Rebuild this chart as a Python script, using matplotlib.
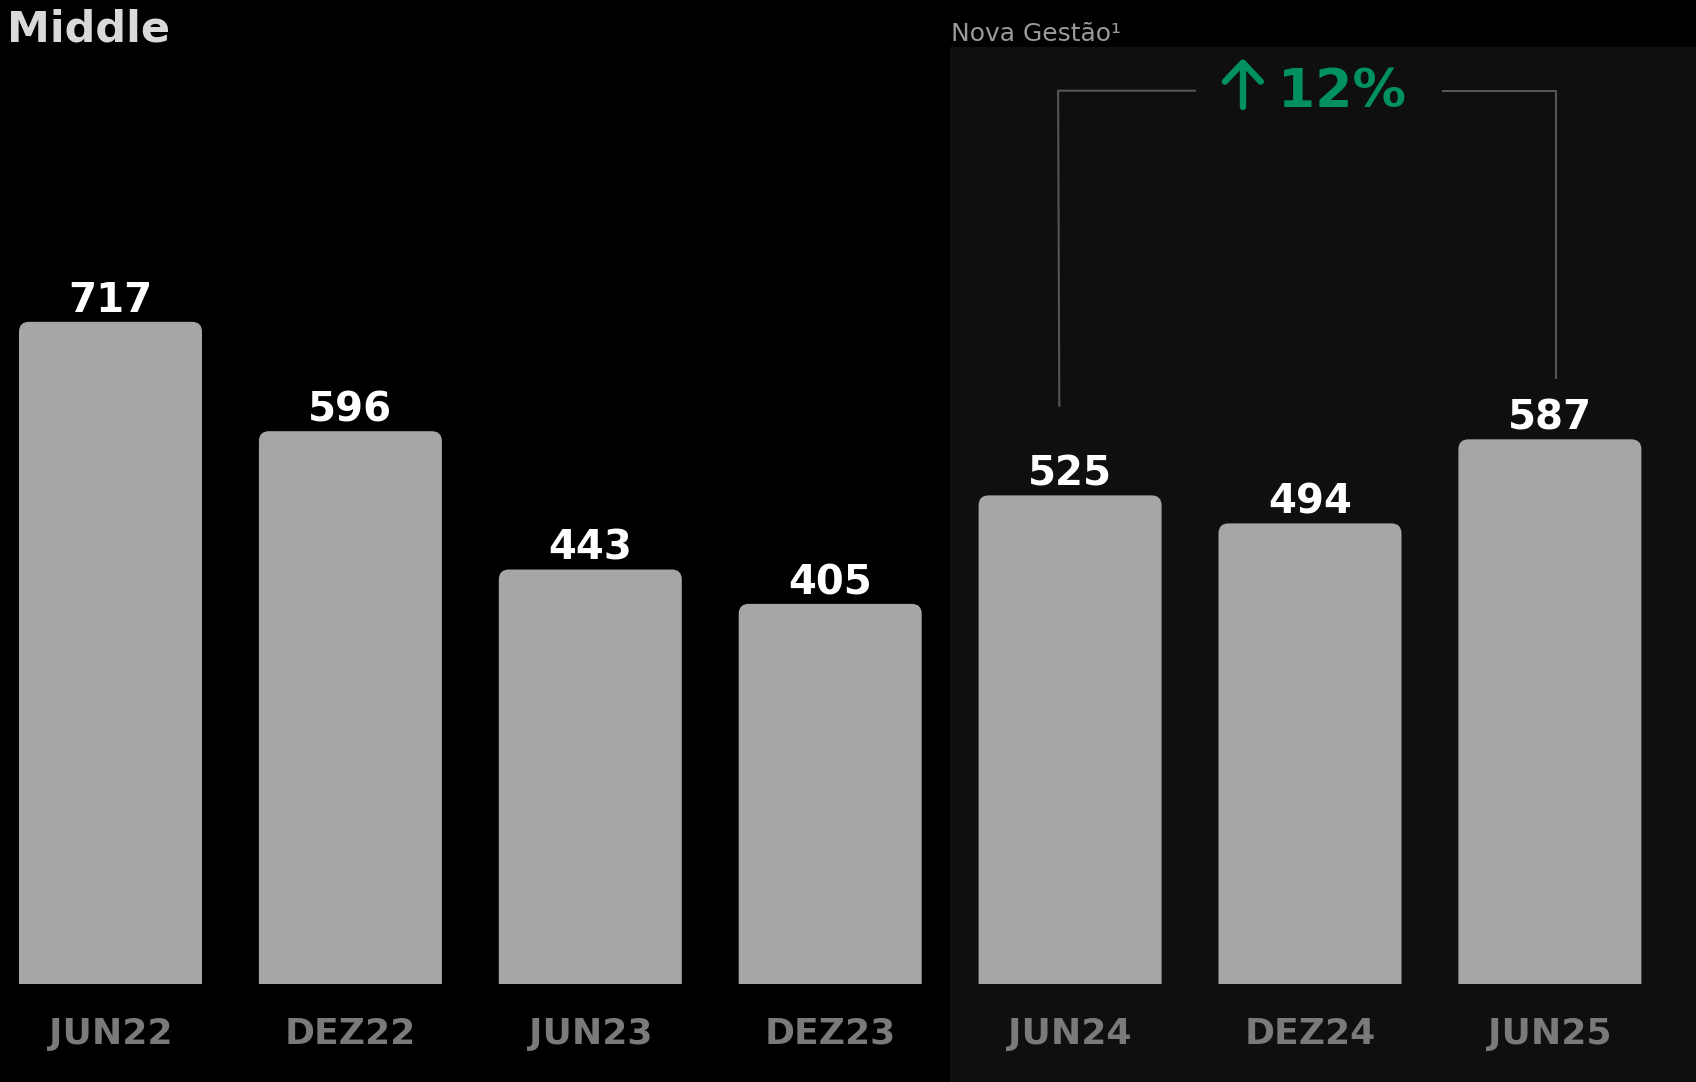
import matplotlib
matplotlib.use("Agg")
import matplotlib.pyplot as plt
from matplotlib.patches import PathPatch, Rectangle
from matplotlib.path import Path
from matplotlib.transforms import blended_transform_factory

# Data
periods = ["JUN22", "DEZ22", "JUN23", "DEZ23", "JUN24", "DEZ24", "JUN25"]
values = [717, 596, 443, 405, 525, 494, 587]
title = "Middle"
panel_label = "Nova Gestão¹"
growth_label = "12%"
panel_start = 4          # first period under the new management panel
growth_from, growth_to = 4, 6

# Colours
BG = "#000000"
PANEL = "#0f0f0f"
BAR = "#a6a6a6"
GREEN = "#00915f"
LINE = "#555555"

W, H, DPI = 16.96, 10.82, 100
fig = plt.figure(figsize=(W, H), dpi=DPI, facecolor=BG)
ax = fig.add_axes([0, 0, 1, 1])
ax.set_facecolor(BG)
ax.set_axis_off()

# scale: one category = 239.9 px, one unit of value = 0.904 px
px_x = 239.9
px_y = 0.904
ax.set_xlim(-110.5 / px_x, (W * DPI - 110.5) / px_x)
base = -15.5
ax.set_ylim(base - 98 / px_y, base + 984 / px_y)

bx = blended_transform_factory(ax.transData, ax.transAxes)

# shaded panel for the new-management period
ax.add_patch(Rectangle((panel_start - 0.5, 0), 10, 1 - 46.5 / 1082,
                       transform=bx, facecolor=PANEL, edgecolor="none", zorder=0))
ax.text(panel_start - 0.5 + 1 / px_x, 1 - 41 / 1082, panel_label, transform=bx,
        ha="left", va="baseline", fontsize=18, color="#9a9a9a",
        family="DejaVu Sans")


def top_rounded_bar(xc, width, bottom, top, rx, ry):
    """Path of a bar whose two top corners are rounded."""
    x0, x1 = xc - width / 2, xc + width / 2
    verts = [(x0, bottom), (x0, top - ry), (x0, top), (x0 + rx, top),
             (x1 - rx, top), (x1, top), (x1, top - ry), (x1, bottom),
             (x0, bottom)]
    codes = [Path.MOVETO, Path.LINETO, Path.CURVE3, Path.CURVE3,
             Path.LINETO, Path.CURVE3, Path.CURVE3, Path.LINETO,
             Path.CLOSEPOLY]
    return Path(verts, codes)


# bars with rounded top corners
bw = 183 / px_x
r_px = 10
rx = r_px / px_x
ry = r_px / px_y
for i, v in enumerate(values):
    ax.add_patch(PathPatch(top_rounded_bar(i, bw, base, v, rx, ry),
                           facecolor=BAR, edgecolor="none", zorder=2))
    ax.annotate(f"{v}", (i, v), xytext=(0, 7), textcoords="offset points",
                ha="center", va="baseline", fontsize=29, fontweight="bold",
                color="white", zorder=3)
    ax.text(i, 1 - 1044 / 1082, periods[i], transform=bx, ha="center",
            va="baseline", fontsize=26, fontweight="bold", color="#7a7a7a")

# title
fig.text(7 / 1696, 1 - 41 / 1082, title, ha="left", va="baseline",
         fontsize=31, fontweight="bold", color="#d9d9d9")

# growth bracket between JUN24 and JUN25
top_y = 972.7
ax.plot([growth_from - 0.045, growth_from - 0.05, 4.525],
        [values[growth_from] + 98, top_y, top_y], color=LINE, lw=1.5,
        solid_capstyle="butt", zorder=1)
ax.plot([5.55, growth_to + 0.025, growth_to + 0.025],
        [top_y, top_y, values[growth_to] + 67], color=LINE, lw=1.5,
        solid_capstyle="butt", zorder=1)

# up arrow
ax_c = 4.72
a_top = top_y + 28 / px_y
a_bot = top_y - 16 / px_y
ax.plot([ax_c, ax_c], [a_bot, a_top], color=GREEN, lw=4.6,
        solid_capstyle="round", zorder=3)
ax.plot([ax_c - 18 / px_x, ax_c, ax_c + 18 / px_x],
        [a_top - 19 / px_y, a_top, a_top - 19 / px_y], color=GREEN, lw=4.6,
        solid_capstyle="round", solid_joinstyle="round", zorder=3)
ax.text(4.866, a_bot, growth_label, ha="left", va="baseline", fontsize=38.5,
        fontweight="bold", color=GREEN, zorder=3)

fig.savefig("out.png", dpi=DPI, facecolor=BG)
